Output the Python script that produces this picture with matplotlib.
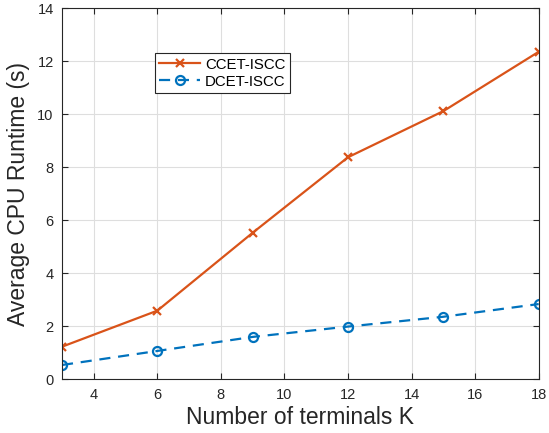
import matplotlib.pyplot as plt
import numpy as np

plt.rcParams['font.family'] = ['Liberation Sans', 'DejaVu Sans']

K = [3, 6, 9, 12, 15, 18]
ccet = [1.23, 2.59, 5.53, 8.38, 10.12, 12.36]
dcet = [0.54, 1.07, 1.60, 1.99, 2.36, 2.84]
xticks = [4, 6, 8, 10, 12, 14, 16, 18]
yticks = [0, 2, 4, 6, 8, 10, 12, 14]

dark = '#262626'
fig = plt.figure(figsize=(5.49, 4.33), dpi=100)
ax = fig.add_axes([62/549, 1 - 379.3/433, 476.7/549, 371/433])

ax.plot(K, ccet, '-x', color='#D95319', lw=1.6, ms=6, mew=1.6, label='CCET-ISCC')
ax.plot(K, dcet, '--o', color='#0072BD', lw=1.6, ms=6.5, mew=1.6,
        mfc='none', dashes=(5, 3.5), label='DCET-ISCC')

ax.set_xlim(3, 18)
ax.set_ylim(0, 14)
ax.set_xticks(xticks)
ax.set_yticks(yticks)
ax.grid(True, color='#dedede', lw=0.8)
ax.set_axisbelow(True)
ax.tick_params(direction='in', top=True, right=True, length=4, width=0.8,
               colors=dark, labelsize=10.5, pad=6)
for s in ax.spines.values():
    s.set_color(dark)
    s.set_linewidth(0.8)

ax.set_xlabel('Number of terminals K', fontsize=16.5, color=dark, labelpad=3)
ax.set_ylabel('Average CPU Runtime (s)', fontsize=16.5, color=dark, labelpad=5)

leg = ax.legend(loc='upper left', bbox_to_anchor=(0.195, 0.879), fontsize=10.8,
                fancybox=False, edgecolor=dark, framealpha=1, borderpad=0.3,
                handlelength=2.7, handletextpad=0.35, labelspacing=0.2,
                borderaxespad=0)
leg.get_frame().set_linewidth(0.8)
for t in leg.get_texts():
    t.set_color('black')

fig.savefig('out.png', dpi=100)
